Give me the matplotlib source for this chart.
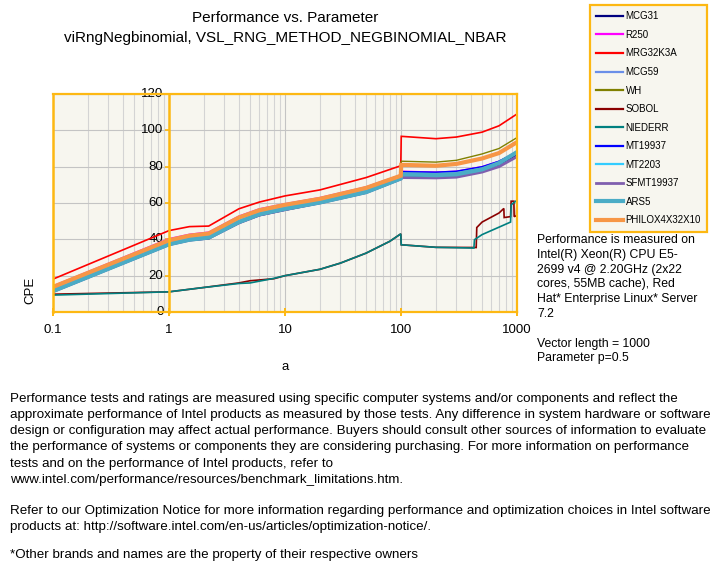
import matplotlib
matplotlib.use("Agg")
import matplotlib.pyplot as plt
from matplotlib.ticker import FixedLocator, NullFormatter, LogLocator

plt.rcParams['font.family'] = ['Liberation Sans', 'DejaVu Sans']

# ---------------- data ----------------
x_rng = [0.1, 1, 1.5, 2.2, 4, 6, 10, 20, 50, 99.5, 100.5, 200, 300, 500, 700, 1000]
y_mcg31    = [11.0, 36.8, 39.3, 40.3, 48.8, 53.0, 56.0, 59.8, 65.5, 73.0, 75.0, 74.5, 75.0, 78.0, 81.0, 86.5]
y_r250     = [14.4, 40.4, 42.8, 44.0, 52.8, 56.8, 59.6, 63.0, 68.9, 75.5, 77.5, 77.0, 77.5, 80.0, 83.0, 88.0]
y_mrg32k3a = [18.1, 44.8, 47.0, 47.3, 56.8, 60.5, 63.9, 67.2, 74.0, 80.5, 96.7, 95.4, 96.3, 99.0, 102.5, 109.0]
y_mcg59    = [12.2, 38.0, 40.5, 41.6, 50.2, 54.5, 57.5, 61.0, 66.8, 74.0, 77.0, 76.5, 77.0, 79.5, 83.0, 88.5]
y_wh       = [13.2, 39.0, 41.5, 42.8, 51.5, 55.5, 58.6, 62.0, 68.0, 75.0, 83.0, 82.5, 83.5, 87.0, 90.0, 96.0]
y_mt19937  = [11.8, 37.5, 40.0, 41.2, 49.8, 54.0, 57.0, 60.5, 66.4, 74.0, 77.3, 77.0, 77.5, 80.0, 83.0, 88.0]
y_mt2203   = [12.5, 38.2, 40.8, 42.0, 50.5, 54.8, 57.8, 61.2, 67.0, 74.0, 76.0, 75.5, 76.0, 78.5, 82.0, 88.0]
y_sfmt     = [11.2, 37.0, 39.5, 40.6, 49.0, 53.3, 56.3, 60.0, 65.7, 73.2, 74.0, 73.8, 74.2, 77.0, 80.0, 85.5]
y_ars5     = [11.5, 37.3, 39.8, 41.0, 49.5, 53.8, 56.8, 60.3, 66.0, 73.5, 75.8, 75.3, 75.8, 78.5, 82.0, 88.0]
y_philox   = [13.8, 39.5, 42.0, 43.2, 52.0, 56.0, 59.0, 62.3, 68.3, 75.0, 81.0, 80.5, 81.5, 84.5, 87.5, 93.5]

x_niederr = [0.1, 1, 2, 4, 5, 8, 10, 20, 30, 50, 80, 99.5, 100.5, 200, 425, 430, 500, 880, 890, 1000]
y_niederr = [9.3, 11.1, 13.5, 15.7, 16.0, 18.5, 20.0, 23.5, 26.9, 32.4, 38.9, 43.0, 37.0, 35.6, 35.2, 39.8, 42.6, 49.5, 59.0, 61.5]

x_sobol = [0.1, 1, 2, 4, 5, 8, 10, 20, 30, 50, 80, 99.5, 100.5, 200, 445, 450, 500, 700, 770, 775, 880, 890, 940, 945, 990, 1000]
y_sobol = [9.8, 11.1, 13.5, 16.0, 17.2, 18.3, 20.0, 23.5, 26.9, 32.4, 38.9, 43.0, 37.0, 35.6, 35.5, 46.5, 49.5, 54.5, 57.0, 52.0, 52.5, 61.0, 61.0, 52.5, 53.0, 61.0]

names = ["MCG31", "R250", "MRG32K3A", "MCG59", "WH", "SOBOL", "NIEDERR",
         "MT19937", "MT2203", "SFMT19937", "ARS5", "PHILOX4X32X10"]
colors = ["#000080", "#FF00FF", "#FF0000", "#6A8FE8", "#808000", "#8B0000",
          "#008080", "#0000FF", "#33CCFF", "#7F5FAF", "#4BACC6", "#F79646"]
widths = [1.0, 1.0, 1.2, 1.0, 1.0, 1.2, 1.2, 1.0, 1.0, 2.0, 3.0, 3.0]

series = [(x_rng, y_mcg31), (x_rng, y_r250), (x_rng, y_mrg32k3a), (x_rng, y_mcg59),
          (x_rng, y_wh), (x_sobol, y_sobol), (x_niederr, y_niederr), (x_rng, y_mt19937),
          (x_rng, y_mt2203), (x_rng, y_sfmt), (x_rng, y_ars5), (x_rng, y_philox)]

x_ticks = [0.1, 1, 10, 100, 1000]
x_tick_labels = ["0.1", "1", "10", "100", "1000"]
y_ticks = [0, 20, 40, 60, 80, 100, 120]

# ---------------- figure ----------------
W, H = 715, 571
fig = plt.figure(figsize=(W / 100, H / 100), dpi=100)
fig.patch.set_facecolor("white")

L, R, T, B = 53, 517, 94, 312
ax = fig.add_axes([L / W, 1 - B / H, (R - L) / W, (B - T) / H])
ax.set_facecolor("#F7F6EF")
ax.set_xscale("log")
ax.set_xlim(0.1, 1000)
ax.set_ylim(0, 120)

orange = "#FDB813"
grid_c = "#D4D4D4"

ax.xaxis.set_major_locator(FixedLocator(x_ticks))
ax.set_xticklabels(x_tick_labels)
ax.xaxis.set_minor_locator(LogLocator(base=10, subs=range(2, 10)))
ax.xaxis.set_minor_formatter(NullFormatter())
ax.set_yticks(y_ticks)
ax.grid(True, which="major", color="#C4C4C4", lw=0.8)
ax.grid(True, which="minor", axis="x", color=grid_c, lw=0.8)
ax.set_axisbelow(True)

for sp in ["top", "right", "bottom"]:
    ax.spines[sp].set_color(orange)
    ax.spines[sp].set_linewidth(1.6)
ax.spines["left"].set_position(("data", 1))
ax.spines["left"].set_color(orange)
ax.spines["left"].set_linewidth(1.8)
ax.axvline(0.1, color=orange, lw=1.8, clip_on=False, zorder=5)

ax.tick_params(axis="x", which="major", direction="inout", length=6, width=1.4,
               color=orange, labelsize=9.5, pad=6)
ax.tick_params(axis="x", which="minor", length=0)
ax.tick_params(axis="y", direction="out", length=3, width=1.2, color=orange,
               labelsize=9.5, pad=1)
for lab in ax.get_yticklabels():
    lab.set_verticalalignment("center")

handles = []
for (xs, ys), n, c, w in zip(series, names, colors, widths):
    h, = ax.plot(xs, ys, color=c, lw=w, label=n, solid_joinstyle="miter")
    handles.append(h)

# titles and labels
cx = (L + R) / 2 / W
fig.text(cx, 1 - 18 / H, "Performance vs. Parameter", ha="center", va="center", fontsize=11)
fig.text(cx, 1 - 38 / H, "viRngNegbinomial, VSL_RNG_METHOD_NEGBINOMIAL_NBAR",
         ha="center", va="center", fontsize=11)
fig.text(30 / W, 1 - 290 / H, "CPE", rotation=90, ha="center", va="center", fontsize=9.5)
fig.text(285 / W, 1 - 367 / H, "a", ha="center", va="center", fontsize=9.5)

leg = fig.legend(handles=handles, loc="upper left", bbox_to_anchor=(590 / W, 1 - 5 / H),
                 fontsize=7, frameon=True, fancybox=False, borderaxespad=0,
                 handlelength=2.7, handletextpad=0.3, labelspacing=0.88,
                 borderpad=0.65, edgecolor=orange, facecolor="#F7F6EF", framealpha=1)
leg.get_frame().set_linewidth(1.6)
for lh in leg.get_lines():
    lh.set_linewidth(max(lh.get_linewidth(), 1.6))

side = ("Performance is measured on\nIntel(R) Xeon(R) CPU E5-\n2699 v4 @ 2.20GHz (2x22\n"
        "cores, 55MB cache), Red\nHat* Enterprise Linux* Server\n7.2\n\n"
        "Vector length = 1000\nParameter p=0.5")
fig.text(537 / W, 1 - 234 / H, side, ha="left", va="top", fontsize=8.8, linespacing=1.31)

para1 = ("Performance tests and ratings are measured using specific computer systems and/or components and reflect the\n"
         "approximate performance of Intel products as measured by those tests. Any difference in system hardware or software\n"
         "design or configuration may affect actual performance. Buyers should consult other sources of information to evaluate\n"
         "the performance of systems or components they are considering purchasing. For more information on performance\n"
         "tests and on the performance of Intel products, refer to\n"
         "www.intel.com/performance/resources/benchmark_limitations.htm.")
para2 = ("Refer to our Optimization Notice for more information regarding performance and optimization choices in Intel software\n"
         "products at: http://software.intel.com/en-us/articles/optimization-notice/.")
para3 = "*Other brands and names are the property of their respective owners"
fig.text(10 / W, 1 - 393 / H, para1, ha="left", va="top", fontsize=9.6, linespacing=1.46)
fig.text(10 / W, 1 - 505 / H, para2, ha="left", va="top", fontsize=9.6, linespacing=1.46)
fig.text(10 / W, 1 - 549 / H, para3, ha="left", va="top", fontsize=9.6)

fig.savefig("out.png", dpi=100)
